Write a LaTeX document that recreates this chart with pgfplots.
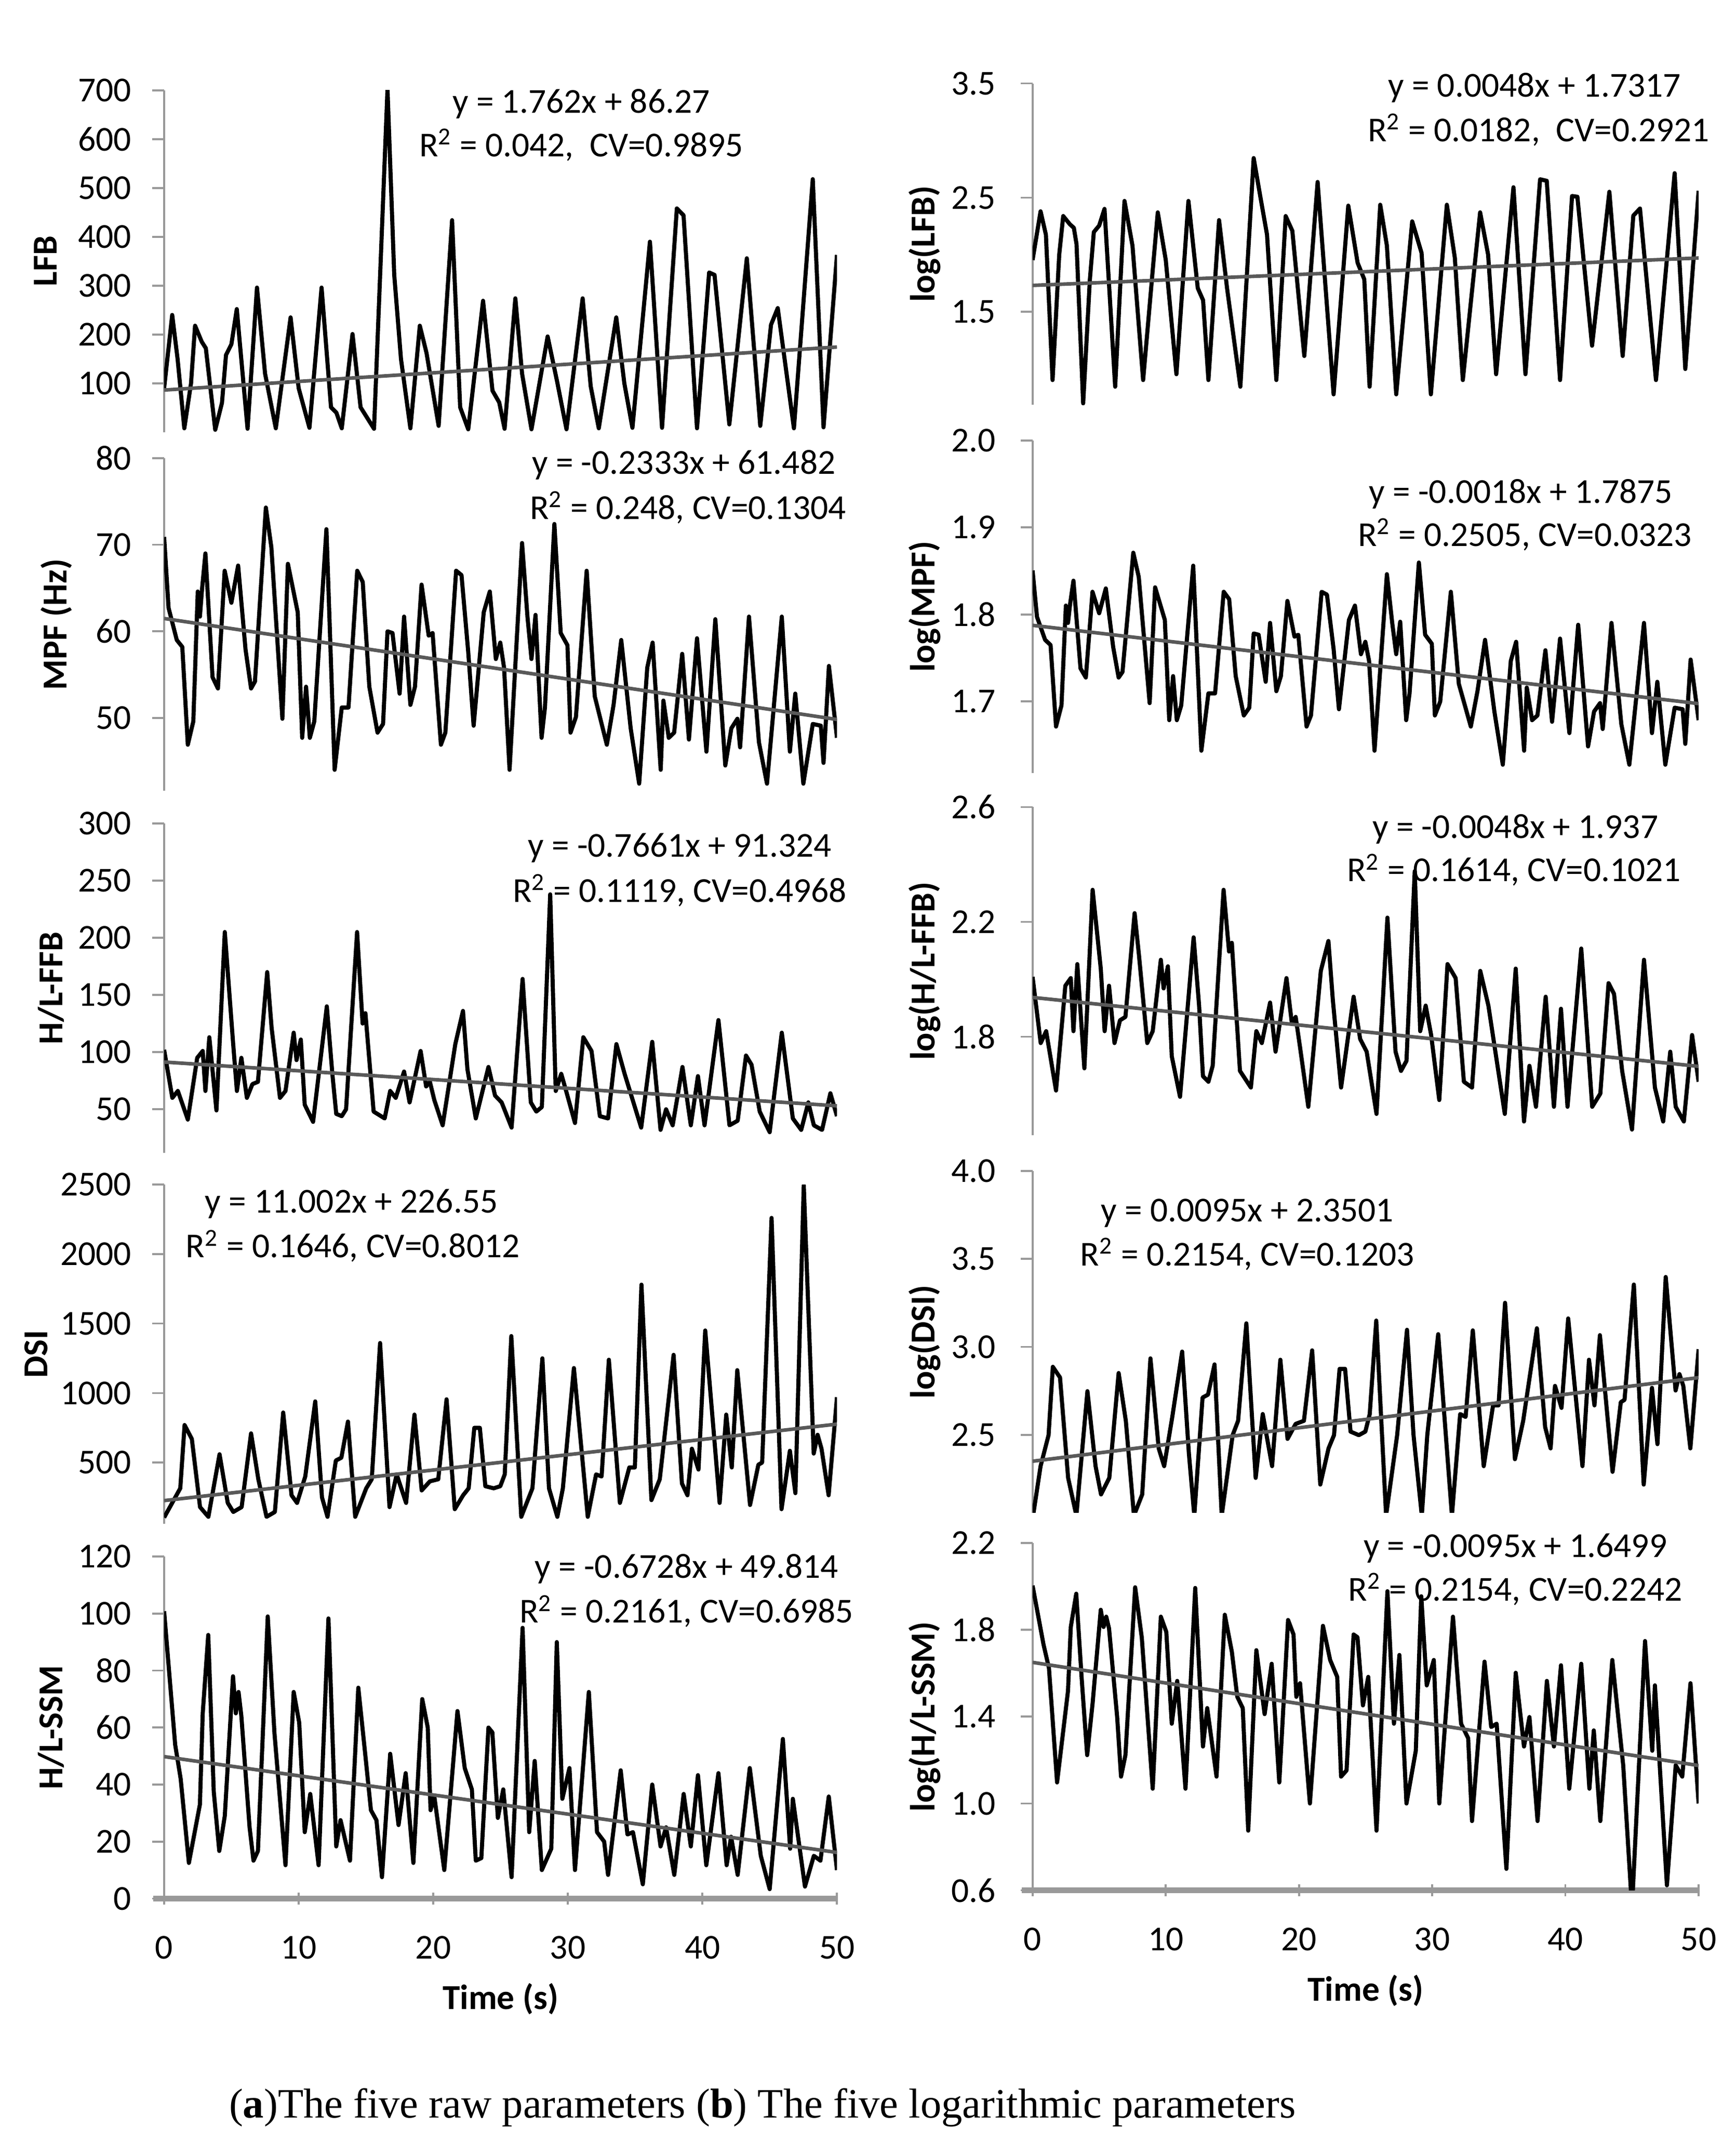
\documentclass[border=0pt]{standalone}
\usepackage{fontspec}
\setmainfont{Carlito}
\newfontfamily\capfont{Liberation Serif}
\usepackage{pgfplots}
\usepackage{pgfplotstable}
\pgfplotsset{compat=1.18}
\newcommand\tf{\fontsize{12.8pt}{15pt}\selectfont}

\pgfplotstableread{
t v
0 90
0.6 240
1.0 150
1.5 8
2.0 100
2.3 218
2.8 185
3.1 172
3.3 124
3.8 5
4.3 60
4.6 158
5.0 180
5.4 252
6.2 7
6.9 296
7.5 120
8.3 8
9.4 235
10.0 90
10.8 9
11.7 296
12.4 51
12.8 40
13.2 8
14.0 201
14.6 51
15.6 7
16.6 702
17.1 322
17.6 150
18.3 8
19.0 218
19.5 162
20.4 13
21.4 434
22.0 51
22.6 6
23.7 269
24.4 85
24.9 61
25.3 7
26.1 274
26.6 120
27.3 6
28.5 196
29.2 104
29.9 6
31.1 274
31.7 94
32.3 8
33.6 235
34.2 100
34.8 9
36.1 390
37.0 9
38.1 458
38.6 444
39.6 8
40.5 327
40.9 322
42.0 16
43.3 356
44.3 13
45.1 220
45.6 254
46.8 8
48.2 518
49.0 10
50.0 363
}\lfb

\pgfplotstableread{
t v
0 70.9
0.33 62.7
0.94 59.0
1.35 58.2
1.76 46.9
2.17 49.6
2.5 64.6
2.66 61.7
2.82 64.9
3.07 69.0
3.6 54.7
4.0 53.4
4.5 67.0
5.0 63.3
5.5 67.6
6.05 57.9
6.46 53.4
6.75 54.2
7.56 74.3
7.97 69.7
8.79 49.9
9.2 67.8
9.93 62.2
10.26 47.7
10.55 53.6
10.83 47.7
11.16 49.6
12.06 71.8
12.67 44.0
13.2 51.2
13.7 51.2
14.35 67.0
14.76 65.7
15.25 53.6
15.86 48.3
16.27 49.3
16.6 60.0
16.97 59.8
17.5 52.8
17.83 61.7
18.3 51.5
18.64 53.6
19.13 65.4
19.66 59.5
19.95 59.8
20.57 46.9
20.9 48.3
21.7 67.0
22.1 66.5
22.6 57.6
23.0 49.1
23.75 62.2
24.2 64.6
24.65 56.8
24.98 58.7
25.26 55.8
25.67 44.0
26.6 70.2
27.0 61.7
27.3 56.8
27.6 61.9
28.05 47.7
28.3 51.2
29.0 72.4
29.47 59.8
29.97 58.4
30.2 48.3
30.6 50.1
31.4 67.0
32.0 52.5
32.9 46.9
33.4 51.5
33.97 59.0
34.67 48.8
35.3 42.4
35.9 55.8
36.3 58.7
36.9 44.0
37.1 52.0
37.5 47.7
37.9 48.3
38.5 57.4
39.0 47.5
39.6 59.2
40.3 46.1
40.96 61.4
41.7 44.5
42.15 48.8
42.6 49.9
42.8 46.6
43.46 61.7
44.2 47.2
44.8 42.4
45.9 61.7
46.5 46.1
46.9 52.8
47.5 42.4
48.2 49.3
48.8 49.1
49.0 44.8
49.4 56.0
50.0 47.7
}\mpf

\pgfplotstableread{
t v
0 102
0.61 60
1.02 66
1.76 41
2.46 95
2.87 101
3.07 66
3.36 113
3.89 49
4.51 205
5.12 109
5.41 66
5.74 95
6.15 60
6.56 72
6.97 74
7.66 170
7.99 121
8.61 60
9.02 66
9.63 117
9.84 93
10.16 111
10.45 54
11.07 39
12.09 140
12.5 81
12.79 46
13.2 44
13.52 50
14.34 205
14.75 125
14.96 134
15.57 48
16.39 42
16.8 66
17.21 60
17.83 83
18.24 56
19.06 101
19.47 70
19.75 74
20.08 58
20.7 36
21.64 107
22.21 136
22.54 85
23.16 42
24.1 87
24.59 62
25.08 56
25.82 34
26.64 164
27.25 56
27.66 48
28.07 52
28.69 238
29.1 66
29.51 81
29.92 64
30.53 38
31.15 113
31.76 101
32.38 44
32.99 42
33.61 107
34.22 81
35.45 34
36.27 109
36.89 32
37.3 50
37.79 36
38.52 87
39.14 36
39.67 79
40.16 36
41.19 128
42.01 36
42.62 40
43.24 97
43.65 89
44.26 48
45.0 30
45.9 117
46.72 42
47.34 32
47.87 56
48.28 36
48.89 32
49.51 64
50 44
}\ffb

\pgfplotstableread{
t v
0 105
0.6 210
1.2 315
1.52 770
2.06 670
2.67 180
3.29 110
4.12 560
4.73 210
5.14 145
5.76 180
6.46 710
7.0 380
7.61 110
8.23 145
8.85 860
9.47 265
9.88 210
10.49 400
11.23 940
11.73 250
12.14 110
12.76 515
13.17 535
13.66 795
14.2 110
15.02 315
15.43 380
16.05 1360
16.75 180
17.28 415
17.98 210
18.6 845
19.14 300
19.75 365
20.37 380
20.99 955
21.6 165
22.22 265
22.63 315
23.05 750
23.46 750
23.87 330
24.49 315
24.98 330
25.31 415
25.8 1410
26.54 110
27.37 315
28.11 1250
28.6 315
29.22 110
29.63 315
30.45 1180
31.48 110
32.1 415
32.51 400
33.05 1240
33.87 210
34.57 465
34.98 465
35.47 1780
36.21 230
36.83 380
37.86 1275
38.48 350
38.89 265
39.22 600
39.71 450
40.21 1450
41.28 210
41.77 845
42.18 465
42.59 1165
43.54 195
44.16 485
44.44 500
45.14 2260
45.88 165
46.5 585
46.91 280
47.53 2495
48.27 565
48.56 700
48.85 600
49.38 265
50 970
}\dsi

\pgfplotstableread{
t v
0 100.8
0.82 54
1.23 42
1.84 12.5
2.66 33
2.87 65
3.28 92.5
3.69 37.5
4.10 16.7
4.51 29
5.12 78
5.33 65
5.53 72.5
5.74 64
6.35 25
6.64 13.3
6.97 16.7
7.70 99
8.20 58
9.02 11.7
9.63 72.5
10.04 61.7
10.45 23.3
10.86 36.7
11.48 11.7
12.21 98.3
12.79 18.3
13.11 27.5
13.81 13.3
14.43 74
14.96 50
15.37 31
15.78 27.5
16.19 7.5
16.80 50.8
17.42 25.8
17.95 44
18.52 12.5
19.18 70
19.59 60
19.80 31
20.08 35.8
20.82 10
21.80 65.8
22.34 45.8
22.87 38.3
23.16 13.3
23.57 14.2
24.10 60
24.39 58.3
24.80 28.3
25.20 38.3
25.82 7.5
26.64 95
27.13 23.3
27.54 48.3
28.07 10
28.77 17.5
29.18 90
29.59 35
30.12 45.8
30.53 10
31.56 72.5
32.17 23.3
32.70 20
32.99 8.3
33.93 45
34.43 22.5
34.84 23.3
35.57 5
36.27 40
36.89 18.3
37.30 25
37.91 8.3
38.61 36.7
39.14 18.3
39.67 43.3
40.29 11.7
41.19 44
41.80 11.7
42.13 21.7
42.62 8.3
43.52 45.8
44.34 15
45.00 3.3
45.98 56
46.52 17.5
46.72 35
47.62 4.2
48.28 15
48.77 13.3
49.39 35.8
50 10
}\ssm

\pgfplotsset{
  base/.style={
    scale only axis, xmin=0, xmax=50, clip=true,
    axis y line=left,
    y axis line style={-, draw=black!40, line width=0.7pt},
    ytick style={draw=black!40, line width=0.7pt},
    tick align=outside, major tick length=4.4pt,
    yticklabel style={font=\tf, text=black, /pgf/number format/assume math mode=true, /pgf/number format/1000 sep={}},
    ylabel style={font=\tf\bfseries},
    anchor=north west,
  },
  leftc/.style={base, width=246pt, yticklabel style={xshift=-4pt}},
  ylab/.style={ylabel style={at={(axis description cs:#1,0.5)}, anchor=center}},
  rightc/.style={base, width=243.5pt, ylab=-0.162,
    yticklabel style={xshift=-5.5pt, /pgf/number format/.cd, fixed, fixed zerofill, precision=1}},
  topx/.style={axis x line=none},
  bottomx/.style={axis x line=bottom,
    x axis line style={-, draw=black!40, line width=2pt, shorten <=-4pt},
    xtick={0,10,20,30,40,50}, xtick style={draw=black!40, line width=0.7pt},
    xticklabel style={font=\tf, text=black, /pgf/number format/assume math mode=true, yshift=-8pt},
    xlabel={Time (s)}, xlabel style={font=\tf\bfseries, yshift=-2pt}},
  dat/.style={black, line width=1.5pt, line join=round, no marks},
  trend/.style={black!65, line width=1.3pt, no marks},
}

\begin{document}
\begin{tikzpicture}
\path[use as bounding box] (0,0) rectangle (634.5pt,-783pt);

% ---------- left column ----------
\begin{axis}[leftc, ylab=-0.176, topx, at={(60pt,-33pt)}, height=125pt, ymin=0, ymax=700, ytick={100,200,...,700}, ylabel={LFB}]
\addplot[dat] table[x=t,y=v]{\lfb};
\addplot[trend] coordinates {(0,86.27) (50,174.37)};
\end{axis}
\begin{axis}[leftc, ylab=-0.16, topx, at={(60pt,-167.5pt)}, height=121.5pt, ymin=41.6, ymax=80, ytick={50,60,70,80}, ylabel={MPF (Hz)}]
\addplot[dat] table[x=t,y=v]{\mpf};
\addplot[trend] coordinates {(0,61.482) (50,49.817)};
\end{axis}
\begin{axis}[leftc, ylab=-0.168, topx, at={(60pt,-301pt)}, height=120.5pt, ymin=11.7, ymax=300, ytick={50,100,...,300}, ylabel={H/L-FFB}]
\addplot[dat] table[x=t,y=v]{\ffb};
\addplot[trend] coordinates {(0,91.324) (50,53.019)};
\end{axis}
\begin{axis}[leftc, ylab=-0.19, topx, at={(60pt,-433pt)}, height=124pt, ymin=60, ymax=2500, ytick={500,1000,...,2500}, ylabel={DSI}]
\addplot[dat] table[x=t,y=v]{\dsi};
\addplot[trend] coordinates {(0,226.55) (50,776.65)};
\end{axis}
\begin{axis}[leftc, ylab=-0.168, bottomx, at={(60pt,-569pt)}, height=125pt, ymin=0, ymax=120, ytick={0,20,...,120}, ylabel={H/L-SSM}]
\addplot[dat] table[x=t,y=v]{\ssm};
\addplot[trend] coordinates {(0,49.814) (50,16.174)};
\end{axis}

% ---------- right column ----------
\begin{axis}[rightc, topx, at={(377.5pt,-30.5pt)}, height=117.5pt, ymin=0.686, ymax=3.5, ytick={1.5,2.5,3.5}, ylabel={log(LFB)}]
\addplot[dat] table[x=t,y expr={log10(\thisrow{v})}]{\lfb};
\addplot[trend] coordinates {(0,1.7317) (50,1.9717)};
\end{axis}
\begin{axis}[rightc, topx, at={(377.5pt,-161pt)}, height=121.5pt, ymin=1.618, ymax=2.0, ytick={1.7,1.8,1.9,2.0}, ylabel={log(MPF)}]
\addplot[dat] table[x=t,y expr={log10(\thisrow{v})}]{\mpf};
\addplot[trend] coordinates {(0,1.7875) (50,1.6975)};
\end{axis}
\begin{axis}[rightc, topx, at={(377.5pt,-295pt)}, height=120pt, ymin=1.457, ymax=2.6, ytick={1.8,2.2,2.6}, ylabel={log(H/L-FFB)}]
\addplot[dat] table[x=t,y expr={log10(\thisrow{v})}]{\ffb};
\addplot[trend] coordinates {(0,1.937) (50,1.697)};
\end{axis}
\begin{axis}[rightc, topx, at={(377.5pt,-428pt)}, height=125pt, ymin=2.057, ymax=4.0, ytick={2.5,3.0,3.5,4.0}, ylabel={log(DSI)}]
\addplot[dat] table[x=t,y expr={log10(\thisrow{v})}]{\dsi};
\addplot[trend] coordinates {(0,2.3501) (50,2.8251)};
\end{axis}
\begin{axis}[rightc, bottomx, at={(377.5pt,-564pt)}, height=127pt, ymin=0.6, ymax=2.2, ytick={0.6,1.0,1.4,1.8,2.2}, ylabel={log(H/L-SSM)}]
\addplot[dat] table[x=t,y expr={log10(\thisrow{v})}]{\ssm};
\addplot[trend] coordinates {(0,1.6499) (50,1.1749)};
\end{axis}

% ---------- regression texts ----------
\begin{scope}[every node/.style={font=\tf, inner sep=0pt, anchor=center}]
\node at (212.5pt,-38pt) {y = 1.762x + 86.27};
\node at (212.5pt,-53pt) {R\textsuperscript{2} = 0.042,\ \ CV=0.9895};
\node at (250pt,-170pt) {y = -0.2333x + 61.482};
\node at (251.5pt,-185.5pt) {R\textsuperscript{2} = 0.248, CV=0.1304};
\node at (248.5pt,-310pt) {y = -0.7661x + 91.324};
\node at (248.5pt,-325.5pt) {R\textsuperscript{2} = 0.1119, CV=0.4968};
\node at (128.5pt,-440pt) {y = 11.002x + 226.55};
\node at (129pt,-455.5pt) {R\textsuperscript{2} = 0.1646, CV=0.8012};
\node at (251pt,-573.5pt) {y = -0.6728x + 49.814};
\node at (251pt,-589pt) {R\textsuperscript{2} = 0.2161, CV=0.6985};
\node at (561pt,-32pt) {y = 0.0048x + 1.7317};
\node at (562.5pt,-47.5pt) {R\textsuperscript{2} = 0.0182,\ \ CV=0.2921};
\node at (556pt,-180.5pt) {y = -0.0018x + 1.7875};
\node at (557.5pt,-195.5pt) {R\textsuperscript{2} = 0.2505, CV=0.0323};
\node at (554pt,-303pt) {y = -0.0048x + 1.937};
\node at (553.5pt,-318pt) {R\textsuperscript{2} = 0.1614, CV=0.1021};
\node at (456pt,-443.5pt) {y = 0.0095x + 2.3501};
\node at (456pt,-458.5pt) {R\textsuperscript{2} = 0.2154, CV=0.1203};
\node at (554pt,-566pt) {y = -0.0095x + 1.6499};
\node at (554pt,-581pt) {R\textsuperscript{2} = 0.2154, CV=0.2242};
\end{scope}

\node[font=\capfont\fontsize{15.3pt}{18pt}\selectfont, inner sep=0pt, anchor=center] at (278.75pt,-770.5pt)
  {(\textbf{a})The five raw parameters (\textbf{b}) The five logarithmic parameters};
\end{tikzpicture}
\end{document}
